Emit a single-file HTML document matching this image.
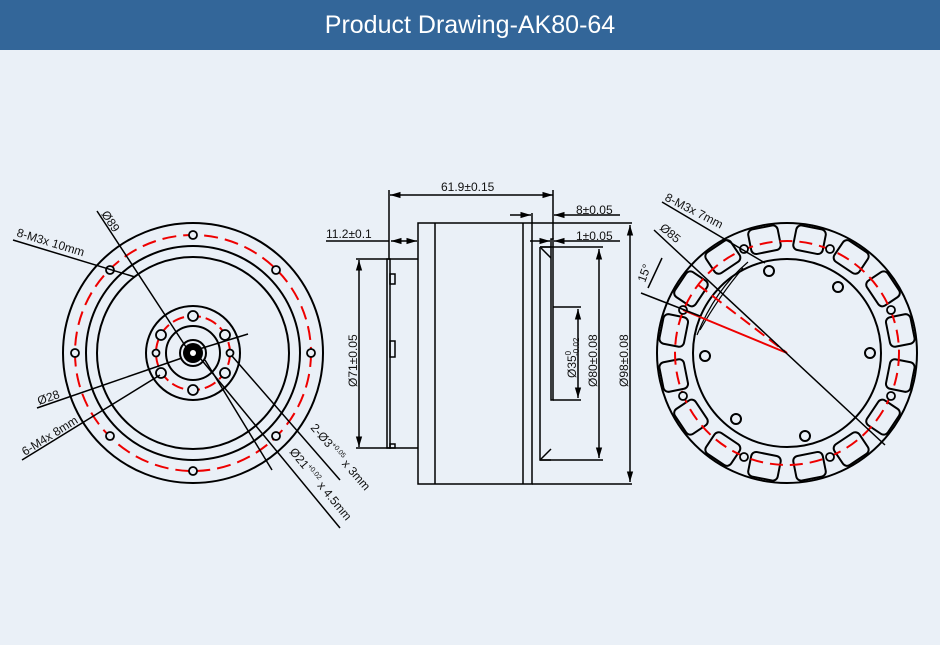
<!DOCTYPE html>
<html><head><meta charset="utf-8"><style>
body{margin:0;width:940px;height:645px;background:#eaf0f7;overflow:hidden;font-family:"Liberation Sans",sans-serif}
.hd{height:50px;background:#336699;color:#fff;font-size:25px;text-align:center;line-height:50px}
svg{position:absolute;left:0;top:0}
text{font-family:"Liberation Sans",sans-serif;font-size:12px;fill:#111}
</style></head><body>
<div class="hd">Product Drawing-AK80-64</div>
<svg width="940" height="645" viewBox="0 0 940 645">
<defs>
<marker id="a" viewBox="0 0 10 10" refX="10" refY="5" markerWidth="7" markerHeight="7" orient="auto-start-reverse"><path d="M0,2L10,5L0,8z" fill="#000"/></marker>
</defs>
<!-- LEFT VIEW -->
<g fill="none" stroke="#000" stroke-width="2">
<circle cx="193" cy="353" r="130"/>
<circle cx="193" cy="353" r="107"/>
<circle cx="193" cy="353" r="96"/>
<circle cx="193" cy="353" r="118" stroke="#e00" stroke-dasharray="14,7"/>
<circle cx="193" cy="353" r="47"/>
<circle cx="193" cy="353" r="37" stroke="#e00" stroke-dasharray="12,5"/>
<circle cx="193" cy="353" r="27"/>
<circle cx="193" cy="353" r="13"/>
</g>
<circle cx="193" cy="353" r="10" fill="#000"/>
<circle cx="193" cy="353" r="3" fill="#fff"/>
<g fill="#eaf0f7" stroke="#000" stroke-width="1.8">
<circle cx="193" cy="235" r="4"/><circle cx="193" cy="471" r="4"/>
<circle cx="75" cy="353" r="4"/><circle cx="311" cy="353" r="4"/>
<circle cx="110" cy="270" r="4"/><circle cx="276" cy="270" r="4"/>
<circle cx="110" cy="436" r="4"/><circle cx="276" cy="436" r="4"/>
<circle cx="193" cy="316" r="5"/><circle cx="193" cy="390" r="5"/>
<circle cx="161" cy="335" r="5"/><circle cx="225" cy="335" r="5"/>
<circle cx="161" cy="373" r="5"/><circle cx="225" cy="373" r="5"/>
<circle cx="156" cy="353" r="3.5"/><circle cx="230" cy="353" r="3.5"/>
</g>
<g stroke="#000" stroke-width="1.5" fill="none">
<line x1="97" y1="211" x2="186" y2="347"/>
<line x1="13" y1="240" x2="135" y2="277"/>
<line x1="37" y1="408" x2="182" y2="358"/>
<line x1="22" y1="460" x2="160" y2="375"/>
<line x1="196" y1="350" x2="248" y2="334"/>
<line x1="232" y1="356" x2="340" y2="480"/>
<line x1="200" y1="358" x2="340" y2="528"/>
<line x1="205" y1="360" x2="272" y2="470"/>
</g>
<text transform="translate(101,214) rotate(57)">Ø89</text>
<text transform="translate(16,236) rotate(17)">8-M3x 10mm</text>
<text transform="translate(39,405) rotate(-19)">Ø28</text>
<text transform="translate(25,456) rotate(-32)">6-M4x 8mm</text>
<text transform="translate(310,428) rotate(49)">2-Ø3<tspan font-size="7" dy="-5">+0.05</tspan><tspan dy="5"> x 3mm</tspan></text>
<text transform="translate(289,452) rotate(50.5)">Ø21<tspan font-size="7" dy="-5">+0.02</tspan><tspan dy="5"> x 4.5mm</tspan></text>

<!-- MIDDLE VIEW -->
<g stroke="#000" stroke-width="1.5" fill="none">
<rect x="418" y="223" width="114" height="261"/>
<line x1="435" y1="223" x2="435" y2="484"/>
<line x1="523" y1="223" x2="523" y2="484"/>
<line x1="532" y1="223" x2="632" y2="223"/>
<line x1="532" y1="484" x2="632" y2="484"/>
<path d="M540,247 L540,460 L551,460 M540,247 L551,247"/>
<path d="M541,248 L551,258 M541,459 L551,449"/>
<path d="M551,239 L551,400 L553,400 L553,239z"/>
<line x1="553" y1="307" x2="581" y2="307"/>
<line x1="553" y1="400" x2="581" y2="400"/>
<line x1="540" y1="247" x2="603" y2="247"/>
<line x1="540" y1="460" x2="603" y2="460"/>
<path d="M387,259 L387,448 L390,448 L390,259z"/>
<rect x="390" y="274" width="5" height="10"/><rect x="390" y="341" width="5" height="16"/><rect x="390" y="444" width="5" height="4"/>
<line x1="356" y1="259" x2="418" y2="259"/>
<line x1="356" y1="448" x2="418" y2="448"/>
<line x1="389" y1="190" x2="389" y2="259"/>
<line x1="553" y1="190" x2="553" y2="239"/>
<line x1="532" y1="213" x2="532" y2="223"/>
<line x1="390" y1="195" x2="553" y2="195" marker-start="url(#a)" marker-end="url(#a)"/>
<line x1="326" y1="241" x2="389" y2="241"/>
<line x1="391" y1="241" x2="417" y2="241" marker-start="url(#a)" marker-end="url(#a)"/>
<line x1="510" y1="215" x2="531" y2="215" marker-end="url(#a)"/>
<line x1="620" y1="215" x2="554" y2="215" marker-end="url(#a)"/>
<line x1="530" y1="241" x2="550" y2="241" marker-end="url(#a)"/>
<line x1="620" y1="241" x2="554" y2="241" marker-end="url(#a)"/>
<line x1="359" y1="260" x2="359" y2="447" marker-start="url(#a)" marker-end="url(#a)"/>
<line x1="578" y1="309" x2="578" y2="398" marker-start="url(#a)" marker-end="url(#a)"/>
<line x1="599" y1="249" x2="599" y2="458" marker-start="url(#a)" marker-end="url(#a)"/>
<line x1="630" y1="225" x2="630" y2="482" marker-start="url(#a)" marker-end="url(#a)"/>
</g>
<text x="441" y="191">61.9±0.15</text>
<text x="326" y="238">11.2±0.1</text>
<text x="576" y="214">8±0.05</text>
<text x="576" y="240">1±0.05</text>
<text transform="translate(357,387) rotate(-90)">Ø71±0.05</text>
<text transform="translate(576,378) rotate(-90)">Ø35<tspan font-size="8" dy="-5">0</tspan><tspan font-size="8" dy="8" dx="-5">-0.02</tspan></text>
<text transform="translate(597,387) rotate(-90)">Ø80±0.08</text>
<text transform="translate(628,387) rotate(-90)">Ø98±0.08</text>

<!-- RIGHT VIEW -->
<g fill="none" stroke="#000" stroke-width="2">
<circle cx="787" cy="353" r="130"/>
<circle cx="787" cy="353" r="94"/>
<g>
<rect x="772" y="225" width="30" height="25" rx="5" transform="rotate(11.25 787 353)"/>
<rect x="772" y="225" width="30" height="25" rx="5" transform="rotate(33.75 787 353)"/>
<rect x="772" y="225" width="30" height="25" rx="5" transform="rotate(56.25 787 353)"/>
<rect x="772" y="225" width="30" height="25" rx="5" transform="rotate(78.75 787 353)"/>
<rect x="772" y="225" width="30" height="25" rx="5" transform="rotate(101.25 787 353)"/>
<rect x="772" y="225" width="30" height="25" rx="5" transform="rotate(123.75 787 353)"/>
<rect x="772" y="225" width="30" height="25" rx="5" transform="rotate(146.25 787 353)"/>
<rect x="772" y="225" width="30" height="25" rx="5" transform="rotate(168.75 787 353)"/>
<rect x="772" y="225" width="30" height="25" rx="5" transform="rotate(191.25 787 353)"/>
<rect x="772" y="225" width="30" height="25" rx="5" transform="rotate(213.75 787 353)"/>
<rect x="772" y="225" width="30" height="25" rx="5" transform="rotate(236.25 787 353)"/>
<rect x="772" y="225" width="30" height="25" rx="5" transform="rotate(258.75 787 353)"/>
<rect x="772" y="225" width="30" height="25" rx="5" transform="rotate(281.25 787 353)"/>
<rect x="772" y="225" width="30" height="25" rx="5" transform="rotate(303.75 787 353)"/>
<rect x="772" y="225" width="30" height="25" rx="5" transform="rotate(326.25 787 353)"/>
<rect x="772" y="225" width="30" height="25" rx="5" transform="rotate(348.75 787 353)"/>
</g>
<circle cx="787" cy="353" r="112" stroke="#e00" stroke-dasharray="13,7"/>
<path d="M697,335 Q715,290 748,262" stroke-width="1.2"/>
<path d="M700,330 Q720,295 743,268" stroke-width="1.2"/>
</g>
<g fill="#eaf0f7" stroke="#000" stroke-width="1.8">
<circle cx="744" cy="249" r="4"/><circle cx="830" cy="249" r="4"/>
<circle cx="891" cy="310" r="4"/><circle cx="891" cy="396" r="4"/>
<circle cx="830" cy="457" r="4"/><circle cx="744" cy="457" r="4"/>
<circle cx="683" cy="396" r="4"/><circle cx="683" cy="310" r="4"/>
</g>
<g fill="#eaf0f7" stroke="#000" stroke-width="2">
<circle cx="769" cy="271" r="5"/><circle cx="838" cy="287" r="5"/>
<circle cx="870" cy="353" r="5"/><circle cx="705" cy="356" r="5"/>
<circle cx="736" cy="419" r="5"/><circle cx="805" cy="436" r="5"/>
</g>
<g stroke="#e00" stroke-width="2" fill="none">
<line x1="683" y1="310" x2="787" y2="353"/>
<line x1="683" y1="310" x2="787" y2="353" transform="rotate(15 787 353)" stroke-dasharray="12,6"/>
</g>
<g stroke="#000" stroke-width="1.5" fill="none">
<line x1="662" y1="202" x2="765" y2="263"/>
<line x1="654" y1="230" x2="885" y2="445"/>
<line x1="641" y1="293" x2="700" y2="316"/>
<line x1="662" y1="258" x2="648" y2="288"/>
</g>
<text transform="translate(664,200) rotate(27)">8-M3x 7mm</text>
<text transform="translate(659,229) rotate(40)">Ø85</text>
<text transform="translate(645,283) rotate(-70)">15°</text>
</svg>
</body></html>
